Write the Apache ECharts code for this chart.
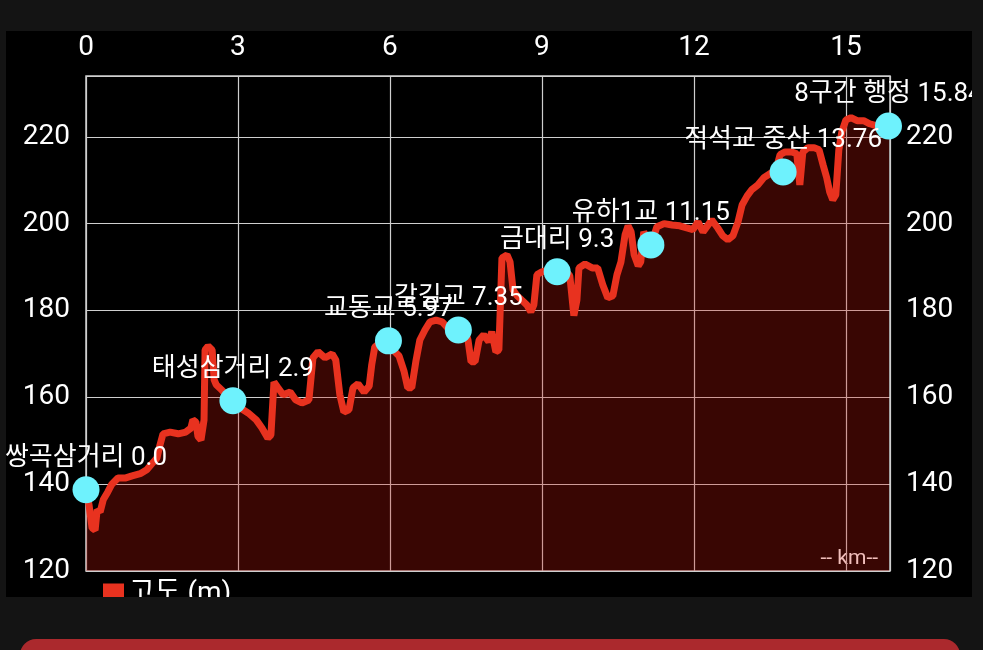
<!DOCTYPE html>
<html>
<head>
<meta charset="utf-8">
<script src="https://cdn.jsdelivr.net/npm/echarts@6/dist/echarts.min.js"></script>
<style>
  html, body { margin: 0; padding: 0; background: #141414; width: 983px; height: 650px; overflow: hidden; }
  #chart { position: absolute; left: 6px; top: 31px; width: 966px; height: 566px; background: #000; }
  #btn { position: absolute; left: 20px; top: 639px; width: 940px; height: 40px; background: #ab292d; border-radius: 16px; }
</style>
</head>
<body>
<div id="chart"></div>
<div id="btn"></div>
<script>
// distance along the route (km)
const distanceKm = [
  0.00, 0.06, 0.12, 0.18, 0.22, 0.28, 0.34, 0.43, 0.51, 0.63,
  0.77, 0.91, 1.07, 1.20, 1.30, 1.40, 1.46, 1.52, 1.66, 1.82,
  1.97, 2.07, 2.11, 2.17, 2.21, 2.27, 2.33, 2.35, 2.41, 2.49,
  2.53, 2.57, 2.68, 2.86, 3.04, 3.20, 3.36, 3.47, 3.59, 3.65,
  3.71, 3.79, 3.89, 4.03, 4.14, 4.26, 4.40, 4.48, 4.58, 4.72,
  4.86, 4.93, 5.01, 5.09, 5.19, 5.27, 5.37, 5.49, 5.59, 5.64,
  5.70, 5.80, 5.90, 5.96, 6.06, 6.18, 6.28, 6.35, 6.43, 6.51,
  6.59, 6.69, 6.79, 6.91, 7.03, 7.14, 7.36, 7.48, 7.54, 7.60,
  7.68, 7.76, 7.85, 7.95, 8.01, 8.09, 8.15, 8.21, 8.31, 8.37,
  8.43, 8.51, 8.60, 8.70, 8.78, 8.84, 8.90, 9.00, 9.16, 9.30,
  9.45, 9.55, 9.63, 9.69, 9.73, 9.85, 9.99, 10.10, 10.20, 10.30,
  10.40, 10.48, 10.56, 10.64, 10.70, 10.76, 10.82, 10.90, 10.95, 11.01,
  11.15, 11.27, 11.41, 11.57, 11.72, 11.86, 11.98, 12.08, 12.18, 12.28,
  12.35, 12.47, 12.57, 12.67, 12.77, 12.87, 12.95, 13.05, 13.14, 13.26,
  13.38, 13.50, 13.62, 13.70, 13.80, 13.93, 14.03, 14.09, 14.15, 14.25,
  14.37, 14.47, 14.55, 14.62, 14.68, 14.74, 14.80, 14.86, 14.92, 15.00,
  15.10, 15.22, 15.35, 15.47, 15.61, 15.73, 15.85
];
// elevation (m)
const elevationM = [
  138.7, 135.2, 129.9, 129.4, 134.1, 133.6, 136.4, 138.2, 140.0, 141.4,
  141.4, 141.9, 142.4, 143.3, 144.7, 146.0, 149.0, 151.6, 152.0, 151.6,
  152.0, 152.9, 154.8, 154.3, 151.0, 150.2, 154.8, 170.9, 171.8, 170.9,
  164.0, 162.9, 161.7, 159.2, 157.6, 156.4, 154.8, 153.0, 150.6, 151.3,
  163.5, 162.2, 160.6, 161.2, 159.4, 158.7, 159.4, 169.1, 170.5, 169.1,
  170.0, 168.6, 160.6, 156.6, 157.1, 162.2, 163.1, 161.2, 162.6, 167.5,
  171.6, 172.5, 173.2, 173.0, 170.9, 169.5, 165.9, 162.2, 162.2, 168.2,
  173.2, 175.5, 177.4, 177.8, 177.4, 176.0, 175.5, 175.5, 173.2, 168.2,
  168.2, 173.2, 174.4, 172.8, 175.1, 170.5, 170.9, 192.1, 192.8, 191.2,
  184.7, 183.4, 182.4, 181.3, 179.7, 181.3, 188.2, 188.9, 189.4, 188.9,
  189.4, 188.0, 178.8, 182.4, 189.8, 190.7, 189.8, 189.8, 185.9, 182.9,
  183.4, 188.2, 191.2, 197.4, 199.5, 198.1, 192.8, 190.3, 191.2, 198.1,
  195.1, 199.3, 200.0, 199.7, 199.5, 199.0, 198.6, 200.4, 198.1, 199.7,
  200.9, 199.0, 197.2, 196.3, 197.2, 200.4, 204.3, 206.4, 207.8, 208.9,
  210.6, 211.5, 212.4, 215.9, 216.5, 216.5, 216.1, 208.9, 216.5, 217.5,
  217.5, 217.0, 213.5, 210.6, 207.3, 205.5, 206.6, 217.0, 221.2, 223.9,
  224.4, 223.7, 223.7, 223.0, 222.5, 222.1, 222.5
];
// waypoints
const waypointNames = ['쌍곡삼거리', '태성삼거리', '교동교', '갈길교', '금대리', '유하1교', '적석교 중산', '8구간 행정'];
const waypointKm = [0.0, 2.9, 5.97, 7.35, 9.3, 11.15, 13.76, 15.84];
const waypointElev = [138.7, 159.2, 173.0, 175.5, 188.9, 195.1, 211.9, 222.5];
const seriesName = '고도 (m)';
const unitLabel = '-- km--';

const profile = distanceKm.map((d, i) => [d, elevationM[i]]);
const points = waypointKm.map((d, i) => ({ value: [d, waypointElev[i]], name: waypointNames[i] }));

const chart = echarts.init(document.getElementById('chart'));
const fontFam = 'Roboto, "Noto Sans CJK KR", sans-serif';
chart.setOption({
  backgroundColor: '#000',
  animation: false,
  grid: { left: 80, right: 82, top: 45, bottom: 26, show: true, borderColor: '#cfcfcf', borderWidth: 1.5 },
  legend: {
    left: 92, top: 544, itemWidth: 21, itemHeight: 21, icon: 'rect', itemGap: 10,
    data: [{ name: seriesName, icon: 'rect' }],
    itemStyle: { color: '#e8321f' },
    textStyle: { color: '#fff', fontSize: 28, fontFamily: fontFam }
  },
  xAxis: {
    type: 'value', position: 'top', min: 0, max: 15.87, interval: 3,
    axisLine: { show: false }, axisTick: { show: false },
    splitLine: { show: true, lineStyle: { color: '#cfcfcf', width: 1.2 } },
    axisLabel: { color: '#fff', fontSize: 28, fontFamily: fontFam, margin: 14, showMaxLabel: false }
  },
  yAxis: [
    {
      type: 'value', min: 120, max: 234, interval: 20, position: 'left',
      axisLine: { show: false }, axisTick: { show: false },
      splitLine: { show: true, lineStyle: { color: '#cfcfcf', width: 1.2 } },
      axisLabel: { color: '#fff', fontSize: 28, fontFamily: fontFam, margin: 16, showMaxLabel: false }
    },
    {
      type: 'value', min: 120, max: 234, interval: 20, position: 'right',
      axisLine: { show: false }, axisTick: { show: false }, splitLine: { show: false },
      axisLabel: { color: '#fff', fontSize: 28, fontFamily: fontFam, margin: 16, showMaxLabel: false }
    }
  ],
  graphic: [{
    type: 'text', right: 94, top: 517,
    style: { text: unitLabel, fill: '#fff', fontSize: 21, fontFamily: fontFam }
  }],
  series: [
    {
      name: seriesName, type: 'line', data: profile, showSymbol: false, symbol: 'none',
      lineStyle: { color: '#e8321f', width: 7 },
      itemStyle: { color: '#e8321f' },
      areaStyle: { color: 'rgba(205,22,12,0.4)' },
      z: 2
    },
    {
      name: 'waypoints', type: 'scatter', data: points, symbolSize: 27, clip: false,
      itemStyle: { color: '#6ef2fd', opacity: 1 },
      label: {
        show: true, position: 'top', distance: 5, color: '#fff', fontSize: 26, fontFamily: fontFam,
        formatter: p => p.name + ' ' + (Number.isInteger(p.value[0]) ? p.value[0].toFixed(1) : p.value[0])
      },
      z: 3
    }
  ]
});
</script>
</body>
</html>
